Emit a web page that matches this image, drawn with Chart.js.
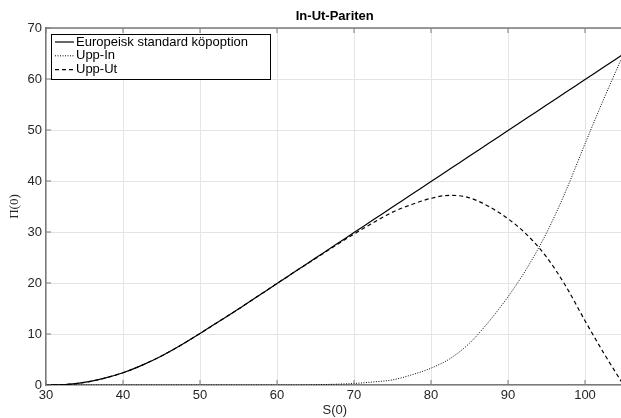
<!DOCTYPE html>
<html>
<head>
<meta charset="utf-8">
<title>In-Ut-Pariten</title>
<script src="https://cdn.jsdelivr.net/npm/chart.js@4.4.0/dist/chart.umd.min.js"></script>
<style>
    body { margin: 0; overflow: hidden; background: #fff; }
    canvas { display: block; }
</style>
</head>
<body>
<canvas id="myChart" width="630" height="418"></canvas>
<script>
// S(0) values and option prices
var S0 = [30, 32.5, 35, 37.5, 40, 42.5, 45, 47.5, 50, 52.5, 55, 57.5, 60, 62.5, 65, 67.5,
          70, 72.5, 75, 77.5, 80, 82.5, 85, 87.5, 90, 92.5, 95, 97.5, 100, 102.5, 105];
var EUROPEAN = [0.02, 0.1, 0.5, 1.3, 2.4, 3.9, 5.7, 7.8, 10.1, 12.5, 14.9, 17.4, 19.9, 22.4, 24.9, 27.4,
                29.9, 32.4, 34.9, 37.4, 39.9, 42.4, 44.9, 47.4, 49.9, 52.4, 54.9, 57.4, 59.9, 62.4, 64.9];
var UPP_IN = [0, 0, 0, 0, 0, 0, 0, 0, 0, 0, 0, 0, 0, 0, 0.05, 0.15,
              0.3, 0.6, 1.0, 2.0, 3.3, 5.2, 8.2, 12.4, 17.3, 23.0, 29.8, 38.0, 47.3, 56.3, 64.9];
var UPP_UT = [0.02, 0.1, 0.5, 1.3, 2.4, 3.9, 5.7, 7.8, 10.1, 12.5, 14.9, 17.4, 19.9, 22.4, 24.8, 27.25,
              29.6, 31.8, 33.9, 35.4, 36.6, 37.2, 36.7, 35.0, 32.6, 29.4, 25.1, 19.4, 12.6, 6.1, 0];
var X_TICKS = [30, 40, 50, 60, 70, 80, 90, 100];
var Y_TICKS = [0, 10, 20, 30, 40, 50, 60, 70];
var LABELS = ['Europeisk standard köpoption', 'Upp-In', 'Upp-Ut'];
var TITLE = 'In-Ut-Pariten';

var AXIS = '#7a7a7a';
var FONT = "'Liberation Sans', Arial, sans-serif";

function pts(ys) {
    return S0.map(function(s, i) { return { x: s, y: ys[i] }; });
}

var framePlugin = {
    id: 'frame',
    afterDraw: function(chart) {
        var ctx = chart.ctx, a = chart.chartArea;
        var xs = chart.scales.x, ys = chart.scales.y;
        ctx.save();
        // top border + inner ticks
        ctx.strokeStyle = AXIS;
        ctx.lineWidth = 1.5;
        ctx.beginPath();
        ctx.moveTo(a.left, a.top);
        ctx.lineTo(a.right, a.top);
        ctx.stroke();
        ctx.lineWidth = 1;
        ctx.beginPath();
        X_TICKS.forEach(function(v) {
            var px = xs.getPixelForValue(v);
            ctx.moveTo(px, a.bottom); ctx.lineTo(px, a.bottom - 5);
            ctx.moveTo(px, a.top); ctx.lineTo(px, a.top + 5);
        });
        Y_TICKS.forEach(function(v) {
            var py = ys.getPixelForValue(v);
            ctx.moveTo(a.left, py); ctx.lineTo(a.left + 5, py);
        });
        ctx.stroke();

        // title
        ctx.fillStyle = '#000';
        ctx.font = 'bold 13px ' + FONT;
        ctx.textAlign = 'center';
        ctx.textBaseline = 'middle';
        ctx.fillText(TITLE, (a.left + a.right) / 2, 16);

        // legend
        var bx = a.left + 5, by = a.top + 6, bw = 219, bh = 45;
        ctx.fillStyle = '#fff';
        ctx.fillRect(bx, by, bw, bh);
        ctx.strokeStyle = '#000';
        ctx.lineWidth = 1;
        ctx.strokeRect(bx + 0.5, by + 0.5, bw, bh);
        ctx.font = '13px ' + FONT;
        ctx.textAlign = 'left';
        chart.data.datasets.forEach(function(ds, i) {
            var ry = by + 8 + i * 13.8;
            ctx.strokeStyle = '#000';
            ctx.lineWidth = ds.borderWidth;
            ctx.setLineDash(ds.borderDash || []);
            ctx.beginPath();
            ctx.moveTo(bx + 4, ry);
            ctx.lineTo(bx + 23, ry);
            ctx.stroke();
            ctx.setLineDash([]);
            ctx.fillStyle = '#000';
            ctx.fillText(ds.label, bx + 25, ry);
        });
        ctx.restore();
    }
};

var ctx = document.getElementById('myChart').getContext('2d');
var myChart = new Chart(ctx, {
    type: 'line',
    data: {
        datasets: [{
            label: LABELS[0],
            data: pts(EUROPEAN),
            borderColor: '#000',
            borderWidth: 1.2,
            order: 0
        }, {
            label: LABELS[1],
            data: pts(UPP_IN),
            borderColor: '#000',
            borderWidth: 1,
            borderDash: [1, 1.5],
            order: 1
        }, {
            label: LABELS[2],
            data: pts(UPP_UT),
            borderColor: '#000',
            borderWidth: 1.2,
            borderDash: [4, 3],
            order: 2
        }]
    },
    options: {
        responsive: false,
        animation: false,
        elements: {
            point: { radius: 0 },
            line: { cubicInterpolationMode: 'monotone', fill: false }
        },
        layout: { padding: { top: 28, right: 6.5, left: 0, bottom: 0 } },
        plugins: {
            legend: { display: false },
            title: { display: false },
            tooltip: { enabled: false }
        },
        scales: {
            x: {
                type: 'linear',
                min: 30,
                max: 105,
                afterBuildTicks: function(s) { s.ticks = X_TICKS.map(function(v) { return { value: v }; }); },
                afterFit: function(s) { s.height = 33; },
                grid: { color: '#e4e4e4', drawTicks: false },
                border: { color: AXIS, width: 1.5 },
                ticks: { color: '#262626', font: { family: FONT, size: 13 }, padding: 3, maxRotation: 0 },
                title: { display: true, text: 'S(0)', color: '#262626', font: { family: FONT, size: 13 }, padding: { top: 0, bottom: 0 } }
            },
            y: {
                min: 0,
                max: 70,
                afterBuildTicks: function(s) { s.ticks = Y_TICKS.map(function(v) { return { value: v }; }); },
                afterFit: function(s) { s.width = 46; },
                grid: { color: '#e4e4e4', drawTicks: false },
                border: { color: AXIS, width: 1.5 },
                ticks: { color: '#262626', font: { family: FONT, size: 13 }, padding: 4 },
                title: { display: true, text: 'Π(0)', color: '#262626', font: { family: "'Liberation Serif', 'Times New Roman', serif", size: 13 }, padding: { top: 7, bottom: 0 } }
            }
        }
    },
    plugins: [framePlugin]
});
</script>
</body>
</html>
